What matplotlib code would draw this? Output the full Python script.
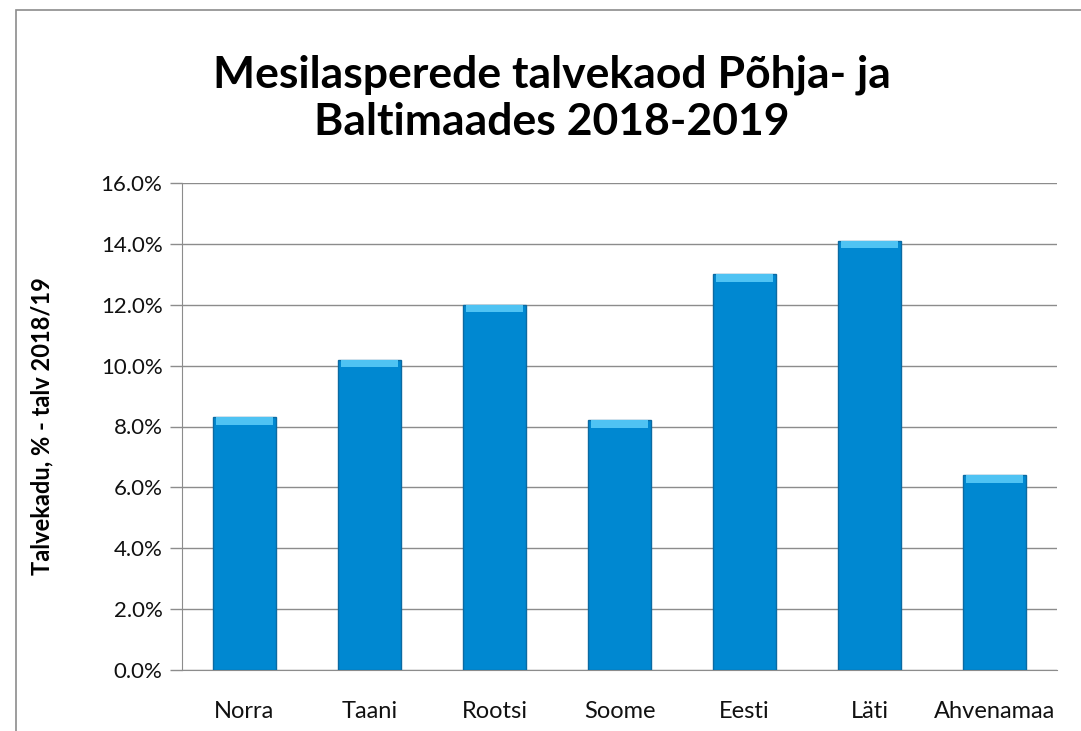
import matplotlib.pyplot as plt
from matplotlib.patches import Rectangle
from matplotlib.ticker import FuncFormatter

# talvekaod, %
countries = ['Norra', 'Taani', 'Rootsi', 'Soome', 'Eesti', 'Läti', 'Ahvenamaa']
losses = [8.3, 10.2, 12.0, 8.2, 13.0, 14.1, 6.4]
yticks = [0, 2, 4, 6, 8, 10, 12, 14, 16]

title = 'Mesilasperede talvekaod Põhja- ja\nBaltimaades 2018-2019'
ylabel = 'Talvekadu, % - talv 2018/19'

plt.rcParams['font.family'] = ['Lato', 'DejaVu Sans']

fig = plt.figure(figsize=(10.81, 7.31), dpi=100)
fig.patch.set_facecolor('white')

# chart frame (only top and left edges fall inside the picture)
fig.add_artist(Rectangle((16/1081, -0.1), 1.2, 1 - 10/731 + 0.1,
                         transform=fig.transFigure, fill=False,
                         edgecolor='#8c8c8c', linewidth=1.2))

ax = fig.add_axes([182/1081, 1 - 670/731, 875/1081, 487/731])

x = range(len(countries))
ax.bar(x, losses, width=0.5, color='#0088d1', edgecolor='#0b6aa2',
       linewidth=1.0, zorder=3)
# light bevel along the top of each bar
bevel = 0.25
ax.bar(x, [bevel] * len(losses), bottom=[v - bevel for v in losses],
       width=0.45, color='#4fc3f3', linewidth=0, zorder=4)

ax.set_xlim(-0.5, len(countries) - 0.5)
ax.set_ylim(0, 16)
ax.set_yticks(yticks)
ax.yaxis.set_major_formatter(FuncFormatter(lambda v, p: '%.1f%%' % v))
ax.set_xticks(list(x))
ax.set_xticklabels(countries)

ax.grid(axis='y', color='#8c8c8c', linewidth=1.0, zorder=0)
ax.set_axisbelow(True)
for s in ['top', 'right']:
    ax.spines[s].set_visible(False)
ax.spines['left'].set_color('#8c8c8c')
ax.spines['bottom'].set_color('#8c8c8c')
ax.tick_params(axis='y', length=9, width=1.0, color='#8c8c8c',
               labelsize=16, pad=5, labelcolor='#111111')
ax.tick_params(axis='x', length=0, labelsize=17, pad=22, labelcolor='#111111')

ax.set_ylabel(ylabel, fontsize=17, fontweight='bold', labelpad=34)

fig.text(552/1081, 1 - 98/731, title, ha='center', va='center',
         fontsize=32, fontweight='bold', linespacing=1.2)

fig.savefig('out.png', dpi=100)
